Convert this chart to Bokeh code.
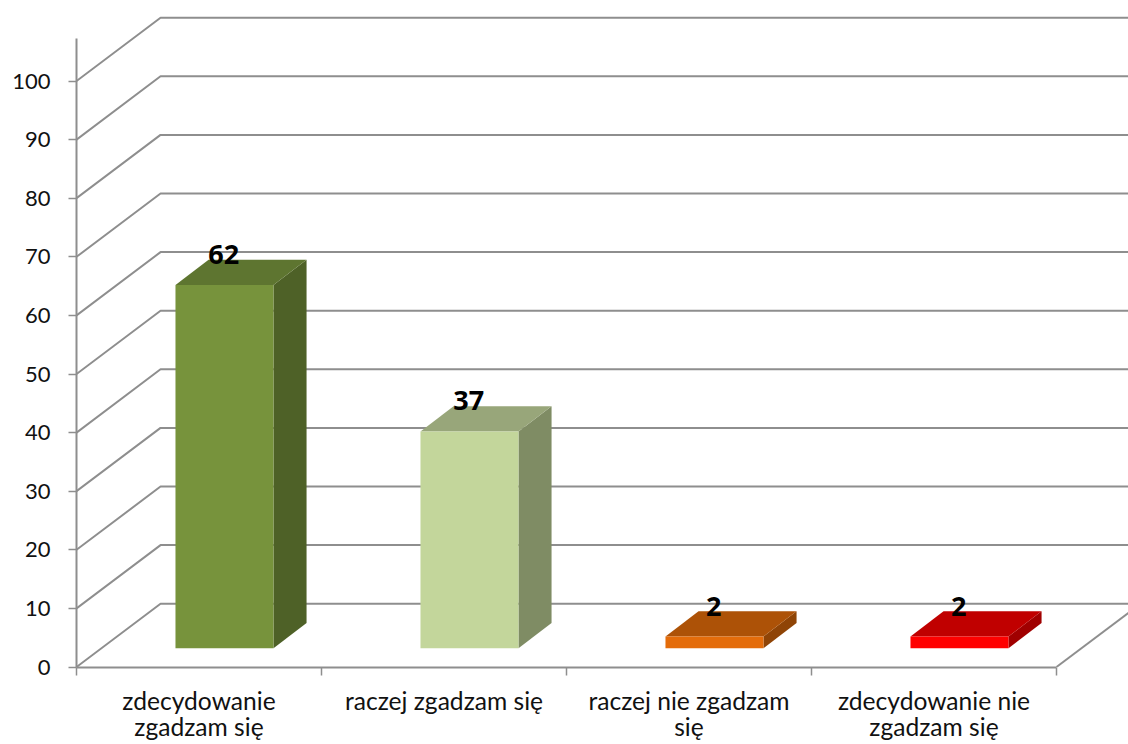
from bokeh.plotting import figure
from bokeh.models import Range1d, FixedTicker
from bokeh.core.properties import value
from bokeh.embed import file_html
from bokeh.resources import INLINE

categories = ["zdecydowanie\nzgadzam się", "raczej zgadzam się", "raczej nie zgadzam\nsię", "zdecydowanie nie\nzgadzam się"]
values = [62, 37, 2, 2]
y_ticks = [0, 10, 20, 30, 40, 50, 60, 70, 80, 90, 100]
front_colors = ["#77933C", "#C3D69B", "#E46C0A", "#FF0000"]
top_colors = ["#5E7530", "#98A67A", "#AD5207", "#C00000"]
side_colors = ["#4E6127", "#7F8C64", "#8F4406", "#A00000"]

GRID = "#8E8E8E"
FONT = "Lato"
WALL_DX, WALL_DY = 0.343, 10.8     # oblique depth of the 3D wall
BAR_LEFT, BAR_W = 0.404, 0.4
BAR_BASE = 3.2
BAR_DX, BAR_DY = 0.135, 4.3        # oblique depth of each bar
X_MAX = 1052 / 245
Y_MIN = -0.085
Y_MAX = Y_MIN + 667 / 5.86

p = figure(width=1128, height=744, output_backend="svg", toolbar_location=None,
           x_range=Range1d(0, X_MAX), y_range=Range1d(Y_MIN, Y_MAX),
           min_border_left=76, min_border_right=0, min_border_top=0, min_border_bottom=77,
           background_fill_color="white", border_fill_color="white")
p.outline_line_color = None
p.grid.visible = False

# y axis
ya = p.yaxis[0]
ya.ticker = FixedTicker(ticks=y_ticks)
ya.bounds = (0, 107.25)
ya.axis_line_color = GRID
ya.axis_line_width = 2
ya.major_tick_line_color = GRID
ya.major_tick_line_width = 1.5
ya.major_tick_in = 0
ya.major_tick_out = 8
ya.minor_tick_out = 0
ya.minor_tick_in = 0
ya.major_label_standoff = 18
ya.major_label_text_font = FONT
ya.major_label_text_font_size = "22px"
ya.major_label_text_color = "#111111"

# x axis
n = len(categories)
xa = p.xaxis[0]
centres = [i + 0.5 for i in range(n)]
xa.ticker = FixedTicker(ticks=centres, minor_ticks=list(range(n + 1)))
xa.major_label_overrides = {c: t for c, t in zip(centres, categories)}
xa.bounds = (0, n)
xa.axis_line_color = GRID
xa.axis_line_width = 2
xa.major_tick_in = 0
xa.major_tick_out = 0
xa.minor_tick_in = 0
xa.minor_tick_out = 8
xa.minor_tick_line_color = GRID
xa.minor_tick_line_width = 1.5
xa.major_label_standoff = 10
xa.major_label_orientation = "horizontal"
xa.major_label_text_font = FONT
xa.major_label_text_font_size = "24.6px"
xa.major_label_text_color = "#111111"
xa.major_label_text_line_height = 0.92

# 3D wall grid
xs = [[0, WALL_DX, X_MAX] for _ in y_ticks]
ys = [[t, t + WALL_DY, t + WALL_DY] for t in y_ticks]
xs.append([n, n + WALL_DX])
ys.append([0, WALL_DY])
p.multi_line(xs, ys, line_color=GRID, line_width=2)

# bars
lefts = [i + BAR_LEFT for i in range(n)]
rights = [l + BAR_W for l in lefts]
tops = [BAR_BASE + v for v in values]
p.patches([[r, r + BAR_DX, r + BAR_DX, r] for r in rights],
          [[BAR_BASE, BAR_BASE + BAR_DY, t + BAR_DY, t] for t in tops],
          fill_color=side_colors, line_color=None)
p.patches([[l, l + BAR_DX, r + BAR_DX, r] for l, r in zip(lefts, rights)],
          [[t, t + BAR_DY, t + BAR_DY, t] for t in tops],
          fill_color=top_colors, line_color=None)
p.quad(left=lefts, right=rights, bottom=[BAR_BASE] * n, top=tops,
       fill_color=front_colors, line_color=None)

# value labels
p.text(x=[l + BAR_W / 2 - 0.003 for l in lefts], y=[t + 5.2 for t in tops], text=[str(v) for v in values],
       text_font=value("Open Sans"), text_font_style="bold", text_font_size="27px",
       text_color="#000000", text_align="center", text_baseline="middle")

open("out.html", "w").write(file_html(p, INLINE))
